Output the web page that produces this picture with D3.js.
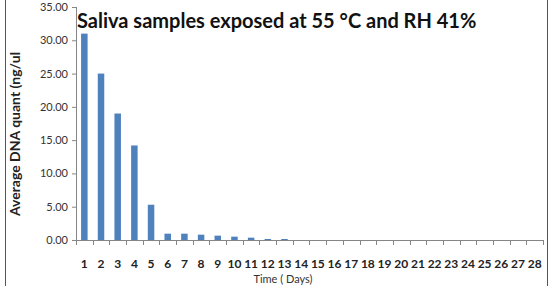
<!DOCTYPE html>
<html>
<head>
<meta charset="utf-8">
<script src="https://cdn.jsdelivr.net/npm/d3@7"></script>
<style>
  body { margin: 0; background: #fff; }
  text { font-family: "Lato", "Open Sans", sans-serif; }
</style>
</head>
<body>
<div id="chart"></div>
<script>
const days = d3.range(1, 29).map(String);
const dnaQuant = [31.0, 25.0, 19.0, 14.2, 5.3, 0.95, 0.95, 0.8, 0.65, 0.5, 0.35, 0.15, 0.15,
    0, 0, 0, 0, 0, 0, 0, 0, 0, 0, 0, 0, 0, 0, 0];
const yTicks = [0, 5, 10, 15, 20, 25, 30, 35];

const width = 558, height = 286;
const margin = { top: 7, left: 76, right: 15, bottom: 46 };
const innerW = 543 - margin.left, innerH = 240 - margin.top;

const svg = d3.select("#chart")
    .append("svg")
    .attr("width", width)
    .attr("height", height);

// frame
svg.append("line").attr("x1", 5.5).attr("x2", 5.5).attr("y1", 0).attr("y2", height)
    .attr("stroke", "#555").attr("stroke-width", 1);
svg.append("line").attr("x1", 547.5).attr("x2", 547.5).attr("y1", 0).attr("y2", height)
    .attr("stroke", "#555").attr("stroke-width", 1);

const g = svg.append("g")
    .attr("transform", "translate(" + margin.left + "," + margin.top + ")");

const xScale = d3.scaleBand().domain(days).range([0, innerW]);
const yScale = d3.scaleLinear().domain([0, 35]).range([innerH, 0]);

const yAxisCall = d3.axisLeft(yScale)
    .tickValues(yTicks)
    .tickSize(4)
    .tickPadding(4)
    .tickFormat(d3.format(".2f"));
const yAxis = g.append("g").attr("class", "y axis").call(yAxisCall);
yAxis.select(".domain").attr("stroke", "#868686").attr("d", "M0.5,0V" + innerH);
yAxis.selectAll(".tick line").attr("stroke", "#868686");
yAxis.selectAll(".tick text").attr("font-size", "11px").attr("fill", "#333")
    .attr("font-family", "Lato, sans-serif");

const xAxis = g.append("g")
    .attr("class", "x axis")
    .attr("transform", "translate(0," + innerH + ")");
xAxis.append("line").attr("x1", 0).attr("x2", innerW).attr("y1", 0.5).attr("y2", 0.5)
    .attr("stroke", "#868686");
xAxis.selectAll("tickmark")
    .data(d3.range(0, days.length + 1))
    .enter()
    .append("line")
    .attr("x1", (i) => Math.round(i * xScale.step()) + 0.5)
    .attr("x2", (i) => Math.round(i * xScale.step()) + 0.5)
    .attr("y1", 0)
    .attr("y2", 5)
    .attr("stroke", "#868686");
xAxis.selectAll("label")
    .data(days)
    .enter()
    .append("text")
    .text((d) => d)
    .attr("x", (d) => xScale(d) + xScale.bandwidth() / 2)
    .attr("y", 28)
    .attr("text-anchor", "middle")
    .attr("font-size", "12px")
    .attr("font-weight", "bold")
    .attr("fill", "#222");

const barW = 6.5;
g.selectAll("bar")
    .data(dnaQuant)
    .enter()
    .append("rect")
    .attr("x", (d, i) => xScale(days[i]) + xScale.bandwidth() / 2 - barW / 2)
    .attr("y", (d) => yScale(d))
    .attr("width", barW)
    .attr("height", (d) => innerH - yScale(d))
    .attr("fill", "#4F81BD");

svg.append("text")
    .text("Saliva samples exposed at 55 °C and RH 41%")
    .attr("x", 77)
    .attr("y", 28)
    .attr("font-size", "20px")
    .attr("font-weight", "bold")
    .attr("fill", "#111");

svg.append("text")
    .text("Time ( Days)")
    .attr("x", 283)
    .attr("y", 283)
    .attr("text-anchor", "middle")
    .attr("font-size", "11px")
    .attr("fill", "#333");

svg.append("text")
    .text("Average DNA quant (ng/ul")
    .attr("transform", "translate(20,134) rotate(-90)")
    .attr("text-anchor", "middle")
    .attr("font-size", "14px")
    .attr("font-weight", "bold")
    .attr("fill", "#222");
</script>
</body>
</html>
